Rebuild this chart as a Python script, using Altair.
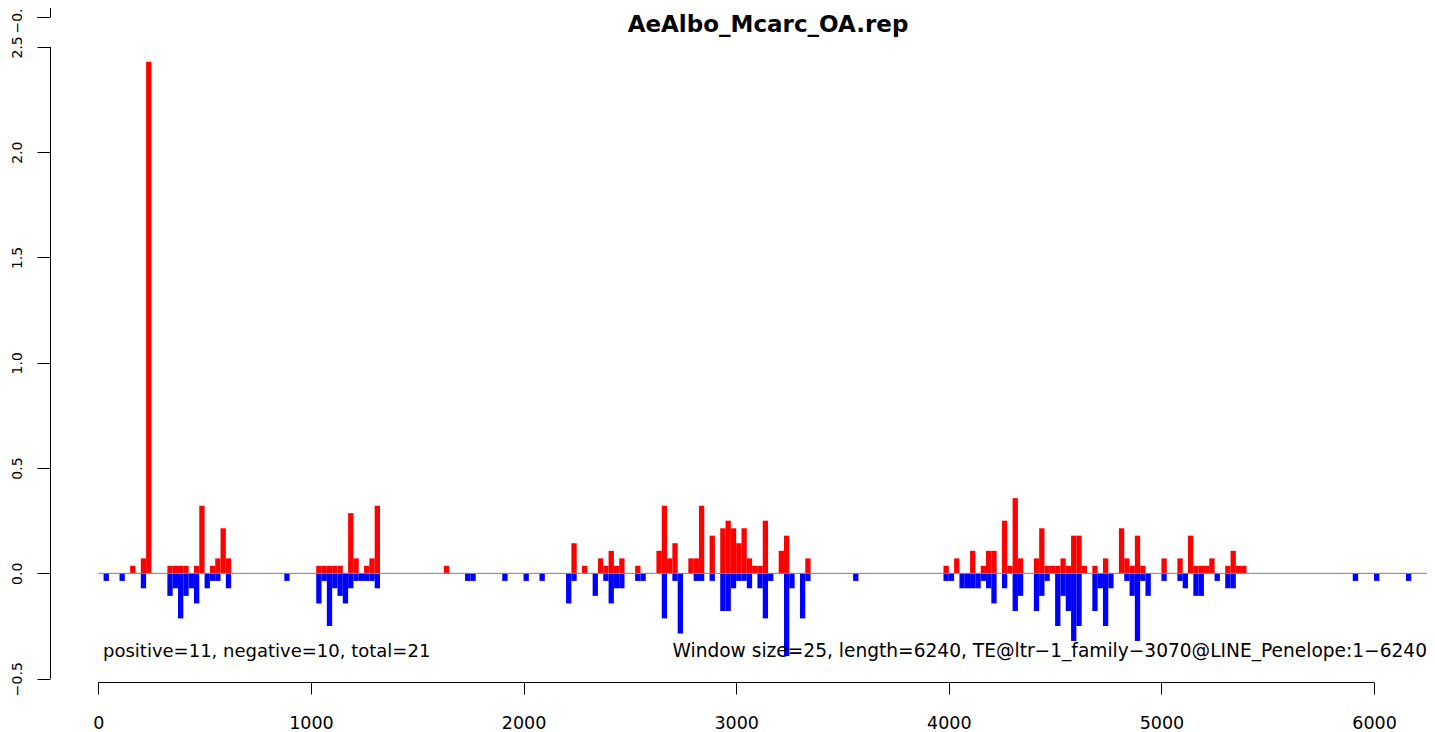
import altair as alt
import pandas as pd

# ---------------- data ----------------
window = 25
pos_start = [150, 200, 225, 325, 350, 375, 400, 450, 475, 525, 550, 575, 600,
             1025, 1050, 1075, 1100, 1125, 1175, 1200, 1250, 1275, 1300,
             1625,
             2225, 2275, 2350, 2375, 2400, 2425, 2450, 2525, 2625, 2650, 2675, 2700,
             2775, 2800, 2825, 2875, 2925, 2950, 2975, 3000, 3025, 3050, 3075, 3100,
             3125, 3200, 3225, 3325,
             3975, 4025, 4100, 4150, 4175, 4200, 4250, 4275, 4300, 4325, 4400, 4425,
             4450, 4475, 4500, 4525, 4550, 4575, 4600, 4625, 4675, 4725, 4800, 4825,
             4850, 4875, 4900, 5000, 5075, 5125, 5150, 5175, 5200, 5225, 5300, 5325,
             5350, 5375]
pos_value = [0.036, 0.071, 2.43, 0.036, 0.036, 0.036, 0.036, 0.036, 0.321, 0.036, 0.071, 0.214, 0.071,
             0.036, 0.036, 0.036, 0.036, 0.036, 0.286, 0.071, 0.036, 0.071, 0.321,
             0.036,
             0.143, 0.036, 0.071, 0.036, 0.107, 0.036, 0.071, 0.036, 0.107, 0.321, 0.071, 0.143,
             0.071, 0.071, 0.321, 0.179, 0.214, 0.25, 0.214, 0.143, 0.214, 0.071, 0.036, 0.036,
             0.25, 0.107, 0.179, 0.071,
             0.036, 0.071, 0.107, 0.036, 0.107, 0.107, 0.25, 0.036, 0.357, 0.071, 0.071, 0.214,
             0.036, 0.036, 0.036, 0.071, 0.036, 0.179, 0.179, 0.036, 0.036, 0.071, 0.214, 0.071,
             0.036, 0.179, 0.036, 0.071, 0.071, 0.179, 0.036, 0.036, 0.036, 0.071, 0.036, 0.107,
             0.036, 0.036]

neg_start = [25, 100, 200, 325, 350, 375, 400, 425, 450, 500, 525, 550, 600,
             875,
             1025, 1050, 1075, 1100, 1125, 1150, 1175, 1200, 1225, 1250, 1275, 1300,
             1725, 1750, 1900, 2000, 2075,
             2200, 2225, 2325, 2375, 2400, 2425, 2450, 2525, 2550, 2650, 2700, 2725,
             2800, 2825, 2875, 2925, 2950, 2975, 3000, 3025, 3050, 3100, 3125, 3150,
             3225, 3250, 3300, 3325,
             3550,
             3975, 4000, 4050, 4075, 4100, 4125, 4150, 4175, 4200, 4250, 4300, 4325,
             4400, 4425, 4450, 4500, 4525, 4550, 4575, 4600, 4675, 4700, 4725, 4750,
             4825, 4850, 4875, 4900, 4925, 5000, 5075, 5100, 5150, 5175, 5250, 5300, 5325,
             5900, 6000, 6150]
neg_value = [-0.036, -0.036, -0.071, -0.107, -0.071, -0.214, -0.107, -0.071, -0.143, -0.071, -0.036, -0.036, -0.071,
             -0.036,
             -0.143, -0.036, -0.25, -0.071, -0.107, -0.143, -0.071, -0.036, -0.036, -0.036, -0.036, -0.071,
             -0.036, -0.036, -0.036, -0.036, -0.036,
             -0.143, -0.036, -0.107, -0.036, -0.143, -0.071, -0.071, -0.036, -0.036, -0.214, -0.036, -0.286,
             -0.036, -0.036, -0.036, -0.179, -0.179, -0.071, -0.036, -0.036, -0.071, -0.071, -0.214, -0.036,
             -0.393, -0.071, -0.214, -0.036,
             -0.036,
             -0.036, -0.036, -0.071, -0.071, -0.071, -0.071, -0.036, -0.071, -0.143, -0.071, -0.179, -0.107,
             -0.179, -0.107, -0.036, -0.25, -0.107, -0.179, -0.321, -0.25, -0.179, -0.071, -0.25, -0.071,
             -0.036, -0.107, -0.321, -0.036, -0.107, -0.036, -0.036, -0.071, -0.107, -0.107, -0.036, -0.071, -0.071,
             -0.036, -0.036, -0.036]

x_ticks = [0, 1000, 2000, 3000, 4000, 5000, 6000]
y_ticks = [-0.5, 0.0, 0.5, 1.0, 1.5, 2.0, 2.5]
title_text = "AeAlbo_Mcarc_OA.rep"
left_note = "positive=11, negative=10, total=21"
right_note = "Window size=25, length=6240, TE@ltr\u22121_family\u22123070@LINE_Penelope:1\u22126240"
frag_label = "\u22120."
zero_line = [0, 6249]
yaxis_span = [-0.5, 2.5]
xaxis_span = [0, 6000]

x_domain = [-227, 6249]
y_domain = [-0.516, 2.547]

# ---------------- tables ----------------
pos_df = pd.DataFrame({"start": pos_start, "value": pos_value})
pos_df["color"] = "#FF0000"
neg_df = pd.DataFrame({"start": neg_start, "value": neg_value})
neg_df["color"] = "#0000FF"
bars_df = pd.concat([pos_df, neg_df], ignore_index=True)
bars_df["end"] = bars_df["start"] + window
bars_df["zero"] = 0.0

W, H = 1377, 645
FONT = "DejaVu Sans"

xscale = alt.Scale(domain=x_domain, nice=False, zero=False)
yscale = alt.Scale(domain=y_domain, nice=False, zero=False)

xaxis = alt.Axis(values=x_ticks, format="d", title=None, domain=False, grid=False,
                 tickSize=12, tickColor="black", tickWidth=1,
                 labelFont=FONT, labelFontSize=17.5, labelColor="black",
                 labelPadding=20, labelFlush=False, labelOverlap=False)
yaxis = alt.Axis(values=y_ticks, format=".1f", title=None, domain=False, grid=False,
                 tickSize=13, tickColor="black", tickWidth=1,
                 labelAngle=270, labelAlign="center", labelBaseline="alphabetic",
                 labelFont=FONT, labelFontSize=14, labelColor="black",
                 labelPadding=15.5, labelFlush=False, labelOverlap=False)

bars = alt.Chart(bars_df).mark_rect().encode(
    x=alt.X("start:Q", scale=xscale, axis=xaxis),
    x2="end:Q",
    y=alt.Y("value:Q", scale=yscale, axis=yaxis),
    y2="zero:Q",
    color=alt.Color("color:N", scale=None),
)

zline = alt.Chart(pd.DataFrame({"start": [zero_line[0]], "end": [zero_line[1]], "value": [0.0]})).mark_rule(
    color="#808080", strokeWidth=1
).encode(
    x=alt.X("start:Q", scale=xscale, axis=xaxis), x2="end:Q",
    y=alt.Y("value:Q", scale=yscale, axis=yaxis),
)

yline = alt.Chart(pd.DataFrame({"value": [yaxis_span[0]], "v2": [yaxis_span[1]]})).mark_rule(
    color="black", strokeWidth=1
).encode(
    x=alt.value(0.5),
    y=alt.Y("value:Q", scale=yscale, axis=yaxis), y2="v2:Q",
)

xline = alt.Chart(pd.DataFrame({"start": [xaxis_span[0]], "end": [xaxis_span[1]]})).mark_rule(
    color="black", strokeWidth=1
).encode(
    x=alt.X("start:Q", scale=xscale, axis=xaxis), x2="end:Q",
    y=alt.value(H + 0.5),
)

title = alt.Chart(pd.DataFrame({"t": [title_text]})).mark_text(
    font=FONT, fontSize=23, fontWeight="bold", color="black", align="center", baseline="alphabetic"
).encode(text="t:N", x=alt.value(718), y=alt.value(-5))

note_l = alt.Chart(pd.DataFrame({"t": [left_note]})).mark_text(
    font=FONT, fontSize=18, color="black", align="left", baseline="alphabetic"
).encode(text="t:N", x=alt.value(53), y=alt.value(620))

note_r = alt.Chart(pd.DataFrame({"t": [right_note]})).mark_text(
    font=FONT, fontSize=18.6, color="black", align="right", baseline="alphabetic"
).encode(text="t:N", x=alt.value(W), y=alt.value(620))

# fragment of a neighbouring panel's axis visible at the very top
frag_df = pd.DataFrame({"t": [frag_label]})
frag_line = alt.Chart(frag_df).mark_rule(color="black", strokeWidth=1).encode(
    x=alt.value(0.5), y=alt.value(-29), y2=alt.value(-20))
frag_tick = alt.Chart(frag_df).mark_rule(color="black", strokeWidth=1).encode(
    x=alt.value(-13), x2=alt.value(0.5), y=alt.value(-19.5))
frag_text = alt.Chart(frag_df).mark_text(
    font=FONT, fontSize=14, color="black", angle=270, align="center", baseline="alphabetic"
).encode(text="t:N", x=alt.value(-28.5), y=alt.value(-16))

chart = alt.layer(bars, zline, yline, xline, title, note_l, note_r,
                  frag_line, frag_tick, frag_text).properties(
    width=W, height=H,
    autosize=alt.AutoSizeParams(type="none"),
    padding={"left": 42, "top": 29, "right": 0, "bottom": 62},
    background="white",
).configure_view(stroke=None)

chart.save("out.html", embed_options={"renderer": "svg", "actions": False})
